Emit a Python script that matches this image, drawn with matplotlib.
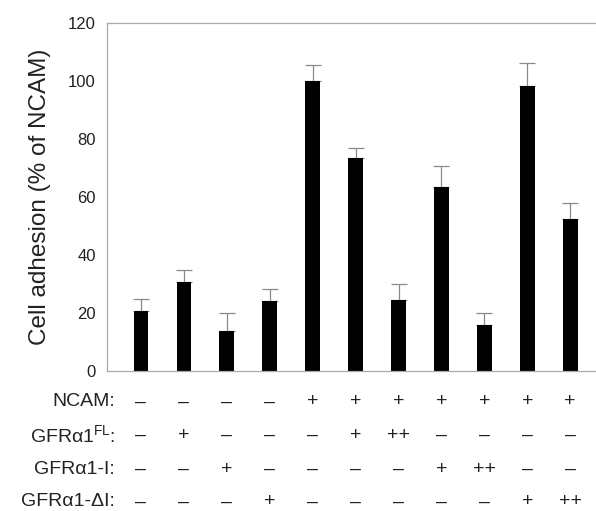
import matplotlib
matplotlib.use("Agg")
import matplotlib.pyplot as plt
import matplotlib.transforms as mtransforms

plt.rcParams['font.family'] = ['Liberation Sans', 'DejaVu Sans']
plt.rcParams['mathtext.fontset'] = 'custom'
plt.rcParams['mathtext.rm'] = 'Liberation Sans'
plt.rcParams['mathtext.it'] = 'Liberation Sans:italic'

# data
adhesion = [20.7, 30.8, 13.9, 24.2, 100.1, 73.3, 24.4, 63.3, 15.7, 98.4, 52.4]
sem = [4.1, 4.2, 6.0, 4.2, 5.4, 3.5, 5.5, 7.4, 4.4, 7.7, 5.5]

row_labels = ["NCAM:", "GFRα1$^{\\mathrm{FL}}$:", "GFRα1-I:", "GFRα1-ΔI:"]
ncam = ["–", "–", "–", "–", "+", "+", "+", "+", "+", "+", "+"]
gfr_fl = ["–", "+", "–", "–", "–", "+", "++", "–", "–", "–", "–"]
gfr_i = ["–", "–", "+", "–", "–", "–", "–", "+", "++", "–", "–"]
gfr_di = ["–", "–", "–", "+", "–", "–", "–", "–", "–", "+", "++"]
rows = [ncam, gfr_fl, gfr_i, gfr_di]
yticks = [0, 20, 40, 60, 80, 100, 120]

fig = plt.figure(figsize=(5.96, 5.11), dpi=100)
ax = fig.add_axes([107 / 596, 1 - 371 / 511, 489 / 596, 348 / 511])

x = list(range(len(adhesion)))
ax.bar(x, adhesion, width=0.34, color="black", zorder=2)
ax.errorbar(x, adhesion, yerr=[[0] * len(sem), sem], fmt="none",
            ecolor="#8a8a8a", elinewidth=0.9, capsize=5.7, capthick=0.9, zorder=1)

ax.set_xlim(-0.79, 10.6)
ax.set_ylim(0, 120)
ax.set_yticks(yticks)
ax.set_xticks([])
ax.tick_params(axis="y", length=0, labelsize=12, pad=8, colors="#222222")
ax.set_ylabel("Cell adhesion (% of NCAM)", fontsize=17.5, color="#222222", labelpad=12)

ax.spines["right"].set_visible(False)
for side in ["left", "bottom", "top"]:
    ax.spines[side].set_color("#aaaaaa")
    ax.spines[side].set_linewidth(0.9)

# treatment table under the bars
row_y = [402, 435, 469, 502]
trans = mtransforms.blended_transform_factory(ax.transData, fig.transFigure)
for label, vals, py in zip(row_labels, rows, row_y):
    fy = 1 - py / 511
    fig.text(115 / 596, fy, label, ha="right", va="center", fontsize=14, color="#222222")
    for xi, v in zip(x, vals):
        ax.text(xi, fy, v, transform=trans, ha="center", va="center",
                fontsize=14, color="#222222", clip_on=False)

fig.savefig("out.png", dpi=100)
